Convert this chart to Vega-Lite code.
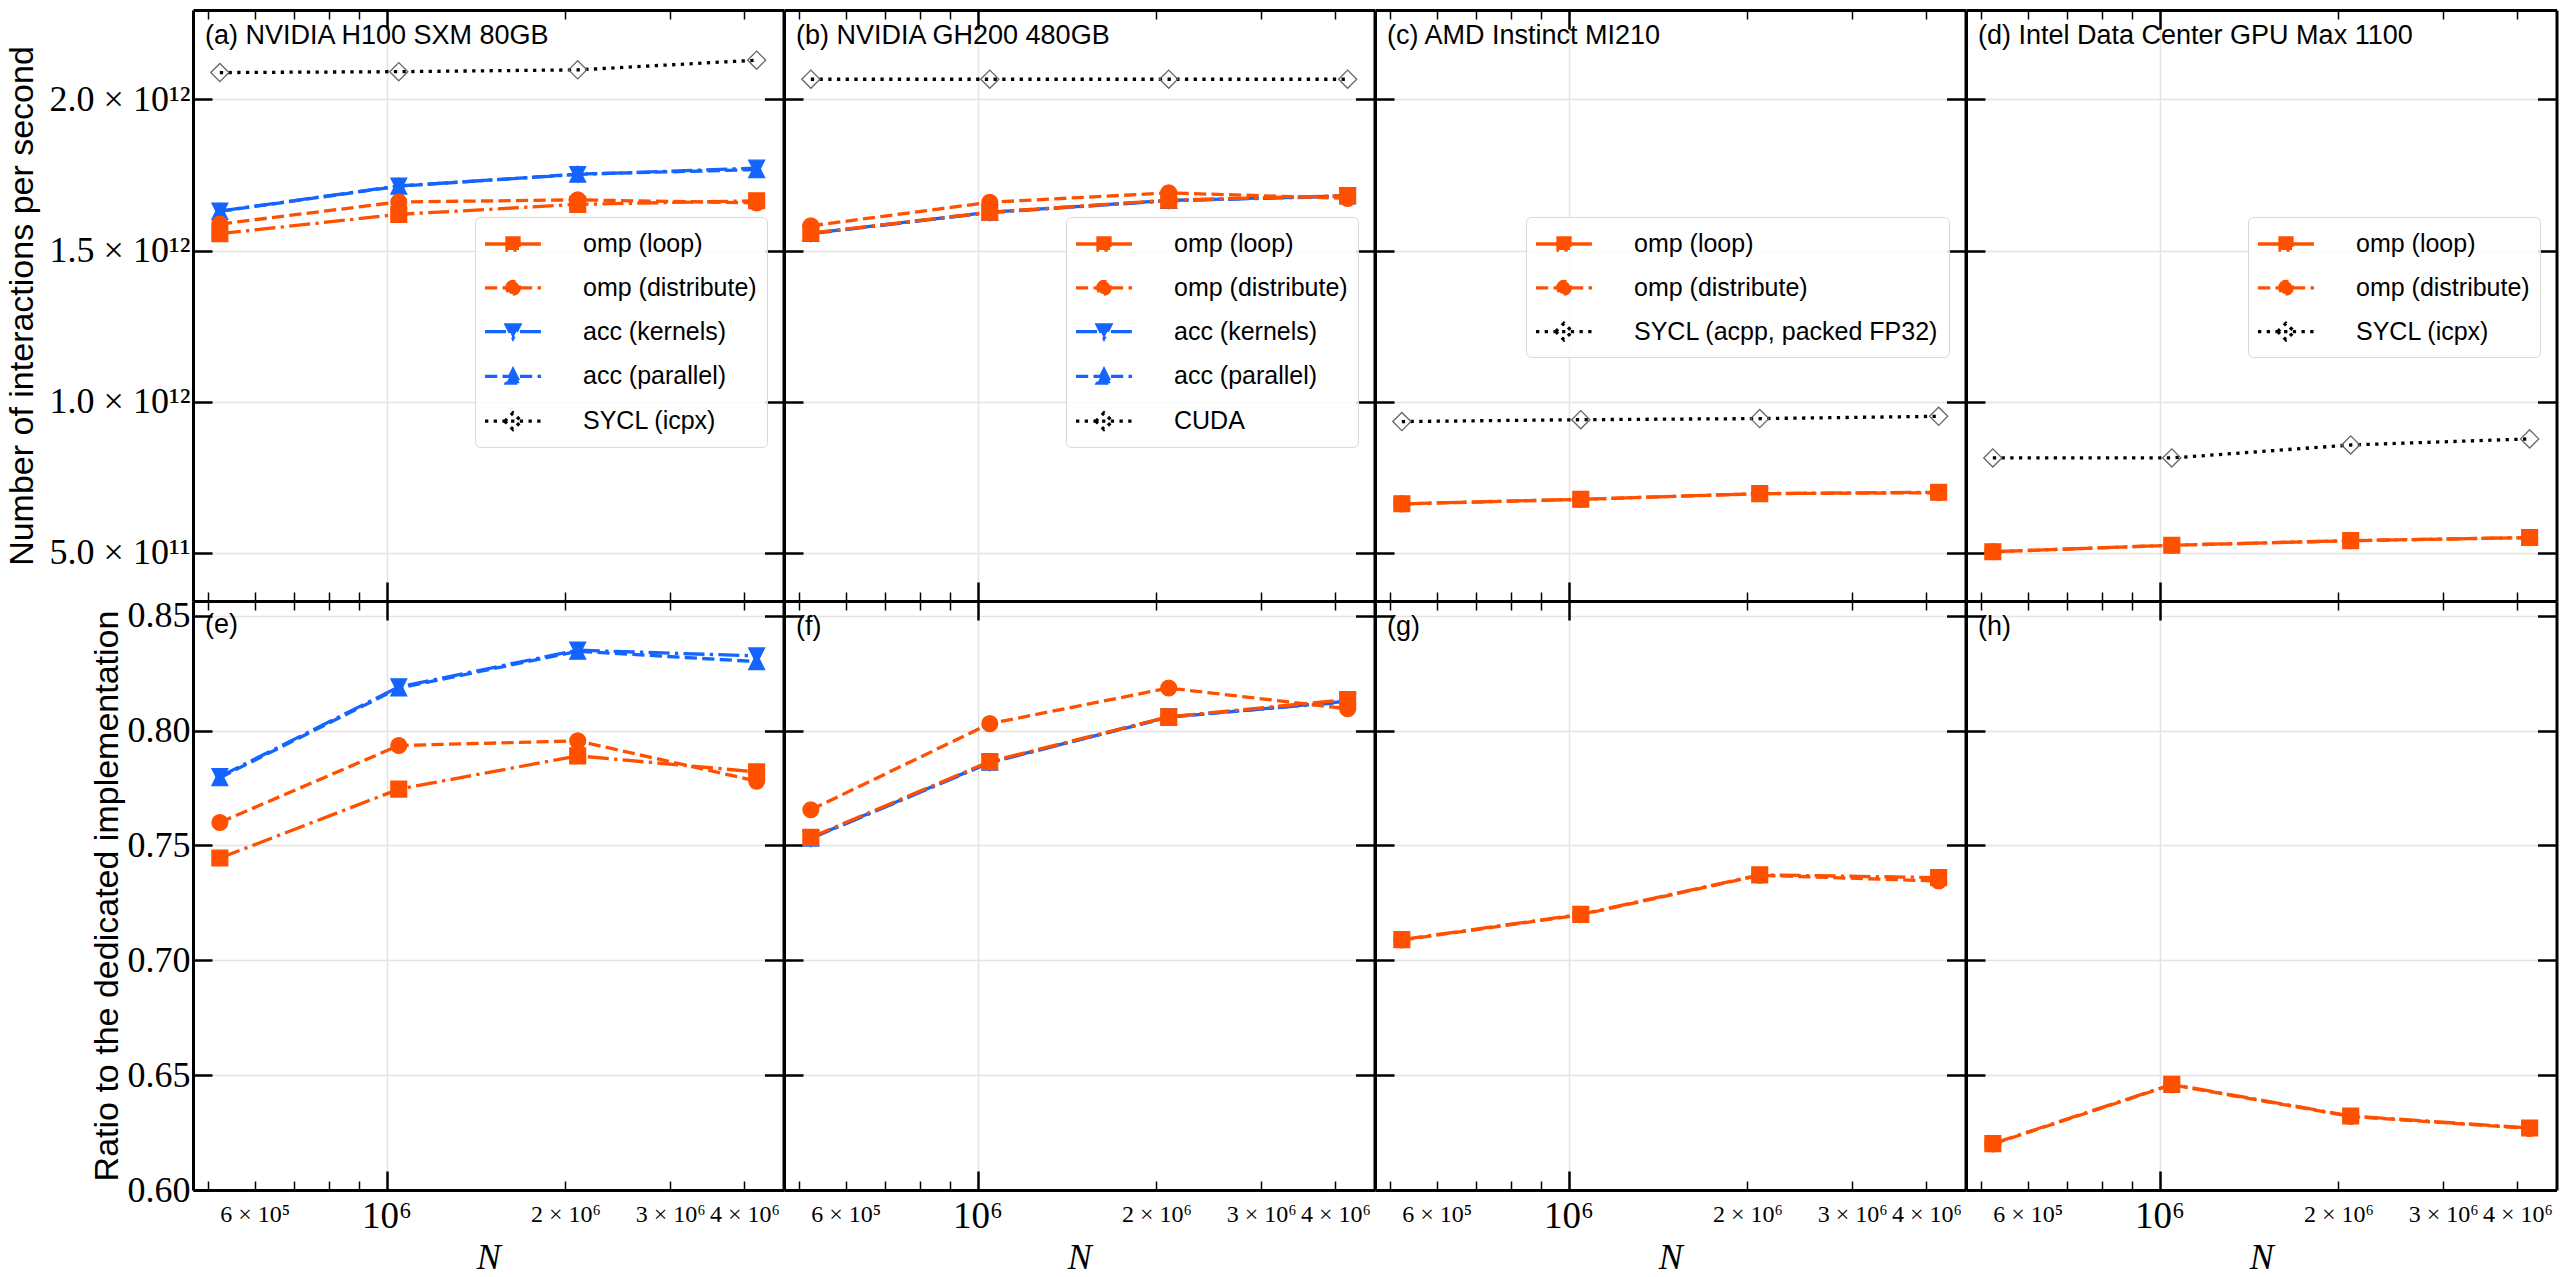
{
  "$schema": "https://vega.github.io/schema/vega-lite/v6.json",
  "background": "white",
  "padding": {"left": 5, "top": 8, "right": 2, "bottom": 2},
  "bounds": "flush",
  "spacing": 0,
  "columns": 4,
  "datasets": {
    "perf": [
      {"gpu": "H100", "series": "acc (kernels)", "N": 524288, "value": 1.631e12},
      {"gpu": "H100", "series": "acc (kernels)", "N": 1048576, "value": 1.714e12},
      {"gpu": "H100", "series": "acc (kernels)", "N": 2097152, "value": 1.752e12},
      {"gpu": "H100", "series": "acc (kernels)", "N": 4194304, "value": 1.773e12},
      {"gpu": "H100", "series": "acc (parallel)", "N": 524288, "value": 1.630e12},
      {"gpu": "H100", "series": "acc (parallel)", "N": 1048576, "value": 1.713e12},
      {"gpu": "H100", "series": "acc (parallel)", "N": 2097152, "value": 1.753e12},
      {"gpu": "H100", "series": "acc (parallel)", "N": 4194304, "value": 1.768e12},
      {"gpu": "H100", "series": "omp (distribute)", "N": 524288, "value": 1.588e12},
      {"gpu": "H100", "series": "omp (distribute)", "N": 1048576, "value": 1.661e12},
      {"gpu": "H100", "series": "omp (distribute)", "N": 2097152, "value": 1.668e12},
      {"gpu": "H100", "series": "omp (distribute)", "N": 4194304, "value": 1.658e12},
      {"gpu": "H100", "series": "omp (loop)", "N": 524288, "value": 1.556e12},
      {"gpu": "H100", "series": "omp (loop)", "N": 1048576, "value": 1.620e12},
      {"gpu": "H100", "series": "omp (loop)", "N": 2097152, "value": 1.653e12},
      {"gpu": "H100", "series": "omp (loop)", "N": 4194304, "value": 1.665e12},
      {"gpu": "H100", "series": "SYCL (icpx)", "N": 524288, "value": 2.089e12},
      {"gpu": "H100", "series": "SYCL (icpx)", "N": 1048576, "value": 2.092e12},
      {"gpu": "H100", "series": "SYCL (icpx)", "N": 2097152, "value": 2.098e12},
      {"gpu": "H100", "series": "SYCL (icpx)", "N": 4194304, "value": 2.130e12},
      {"gpu": "GH200", "series": "acc (kernels)", "N": 524288, "value": 1.556e12},
      {"gpu": "GH200", "series": "acc (kernels)", "N": 1048576, "value": 1.626e12},
      {"gpu": "GH200", "series": "acc (kernels)", "N": 2097152, "value": 1.665e12},
      {"gpu": "GH200", "series": "acc (kernels)", "N": 4194304, "value": 1.680e12},
      {"gpu": "GH200", "series": "acc (parallel)", "N": 524288, "value": 1.557e12},
      {"gpu": "GH200", "series": "acc (parallel)", "N": 1048576, "value": 1.627e12},
      {"gpu": "GH200", "series": "acc (parallel)", "N": 2097152, "value": 1.666e12},
      {"gpu": "GH200", "series": "acc (parallel)", "N": 4194304, "value": 1.681e12},
      {"gpu": "GH200", "series": "omp (distribute)", "N": 524288, "value": 1.582e12},
      {"gpu": "GH200", "series": "omp (distribute)", "N": 1048576, "value": 1.660e12},
      {"gpu": "GH200", "series": "omp (distribute)", "N": 2097152, "value": 1.691e12},
      {"gpu": "GH200", "series": "omp (distribute)", "N": 4194304, "value": 1.673e12},
      {"gpu": "GH200", "series": "omp (loop)", "N": 524288, "value": 1.558e12},
      {"gpu": "GH200", "series": "omp (loop)", "N": 1048576, "value": 1.627e12},
      {"gpu": "GH200", "series": "omp (loop)", "N": 2097152, "value": 1.667e12},
      {"gpu": "GH200", "series": "omp (loop)", "N": 4194304, "value": 1.682e12},
      {"gpu": "GH200", "series": "CUDA", "N": 524288, "value": 2.067e12},
      {"gpu": "GH200", "series": "CUDA", "N": 1048576, "value": 2.067e12},
      {"gpu": "GH200", "series": "CUDA", "N": 2097152, "value": 2.067e12},
      {"gpu": "GH200", "series": "CUDA", "N": 4194304, "value": 2.067e12},
      {"gpu": "MI210", "series": "omp (distribute)", "N": 524288, "value": 0.6622e12},
      {"gpu": "MI210", "series": "omp (distribute)", "N": 1048576, "value": 0.6772e12},
      {"gpu": "MI210", "series": "omp (distribute)", "N": 2097152, "value": 0.6960e12},
      {"gpu": "MI210", "series": "omp (distribute)", "N": 4194304, "value": 0.6993e12},
      {"gpu": "MI210", "series": "omp (loop)", "N": 524288, "value": 0.6625e12},
      {"gpu": "MI210", "series": "omp (loop)", "N": 1048576, "value": 0.6775e12},
      {"gpu": "MI210", "series": "omp (loop)", "N": 2097152, "value": 0.6962e12},
      {"gpu": "MI210", "series": "omp (loop)", "N": 4194304, "value": 0.7007e12},
      {"gpu": "MI210", "series": "SYCL (acpp, packed FP32)", "N": 524288, "value": 0.9345e12},
      {"gpu": "MI210", "series": "SYCL (acpp, packed FP32)", "N": 1048576, "value": 0.9408e12},
      {"gpu": "MI210", "series": "SYCL (acpp, packed FP32)", "N": 2097152, "value": 0.9444e12},
      {"gpu": "MI210", "series": "SYCL (acpp, packed FP32)", "N": 4194304, "value": 0.9520e12},
      {"gpu": "Max1100", "series": "omp (distribute)", "N": 524288, "value": 0.5038e12},
      {"gpu": "Max1100", "series": "omp (distribute)", "N": 1048576, "value": 0.5253e12},
      {"gpu": "Max1100", "series": "omp (distribute)", "N": 2097152, "value": 0.5405e12},
      {"gpu": "Max1100", "series": "omp (distribute)", "N": 4194304, "value": 0.5507e12},
      {"gpu": "Max1100", "series": "omp (loop)", "N": 524288, "value": 0.5040e12},
      {"gpu": "Max1100", "series": "omp (loop)", "N": 1048576, "value": 0.5255e12},
      {"gpu": "Max1100", "series": "omp (loop)", "N": 2097152, "value": 0.5407e12},
      {"gpu": "Max1100", "series": "omp (loop)", "N": 4194304, "value": 0.5509e12},
      {"gpu": "Max1100", "series": "SYCL (icpx)", "N": 524288, "value": 0.8142e12},
      {"gpu": "Max1100", "series": "SYCL (icpx)", "N": 1048576, "value": 0.8142e12},
      {"gpu": "Max1100", "series": "SYCL (icpx)", "N": 2097152, "value": 0.8571e12},
      {"gpu": "Max1100", "series": "SYCL (icpx)", "N": 4194304, "value": 0.8773e12}
    ],
    "ratio": [
      {"gpu": "H100", "series": "acc (kernels)", "N": 524288, "ratio": 0.780},
      {"gpu": "H100", "series": "acc (kernels)", "N": 1048576, "ratio": 0.819},
      {"gpu": "H100", "series": "acc (kernels)", "N": 2097152, "ratio": 0.835},
      {"gpu": "H100", "series": "acc (kernels)", "N": 4194304, "ratio": 0.8325},
      {"gpu": "H100", "series": "acc (parallel)", "N": 524288, "ratio": 0.7795},
      {"gpu": "H100", "series": "acc (parallel)", "N": 1048576, "ratio": 0.8185},
      {"gpu": "H100", "series": "acc (parallel)", "N": 2097152, "ratio": 0.8345},
      {"gpu": "H100", "series": "acc (parallel)", "N": 4194304, "ratio": 0.830},
      {"gpu": "H100", "series": "omp (distribute)", "N": 524288, "ratio": 0.760},
      {"gpu": "H100", "series": "omp (distribute)", "N": 1048576, "ratio": 0.7935},
      {"gpu": "H100", "series": "omp (distribute)", "N": 2097152, "ratio": 0.7955},
      {"gpu": "H100", "series": "omp (distribute)", "N": 4194304, "ratio": 0.778},
      {"gpu": "H100", "series": "omp (loop)", "N": 524288, "ratio": 0.7445},
      {"gpu": "H100", "series": "omp (loop)", "N": 1048576, "ratio": 0.7745},
      {"gpu": "H100", "series": "omp (loop)", "N": 2097152, "ratio": 0.789},
      {"gpu": "H100", "series": "omp (loop)", "N": 4194304, "ratio": 0.782},
      {"gpu": "GH200", "series": "acc (kernels)", "N": 524288, "ratio": 0.753},
      {"gpu": "GH200", "series": "acc (kernels)", "N": 1048576, "ratio": 0.786},
      {"gpu": "GH200", "series": "acc (kernels)", "N": 2097152, "ratio": 0.806},
      {"gpu": "GH200", "series": "acc (kernels)", "N": 4194304, "ratio": 0.8125},
      {"gpu": "GH200", "series": "acc (parallel)", "N": 524288, "ratio": 0.7532},
      {"gpu": "GH200", "series": "acc (parallel)", "N": 1048576, "ratio": 0.7862},
      {"gpu": "GH200", "series": "acc (parallel)", "N": 2097152, "ratio": 0.8058},
      {"gpu": "GH200", "series": "acc (parallel)", "N": 4194304, "ratio": 0.8128},
      {"gpu": "GH200", "series": "omp (distribute)", "N": 524288, "ratio": 0.7655},
      {"gpu": "GH200", "series": "omp (distribute)", "N": 1048576, "ratio": 0.803},
      {"gpu": "GH200", "series": "omp (distribute)", "N": 2097152, "ratio": 0.8185},
      {"gpu": "GH200", "series": "omp (distribute)", "N": 4194304, "ratio": 0.8095},
      {"gpu": "GH200", "series": "omp (loop)", "N": 524288, "ratio": 0.7535},
      {"gpu": "GH200", "series": "omp (loop)", "N": 1048576, "ratio": 0.7865},
      {"gpu": "GH200", "series": "omp (loop)", "N": 2097152, "ratio": 0.806},
      {"gpu": "GH200", "series": "omp (loop)", "N": 4194304, "ratio": 0.8135},
      {"gpu": "MI210", "series": "omp (distribute)", "N": 524288, "ratio": 0.7088},
      {"gpu": "MI210", "series": "omp (distribute)", "N": 1048576, "ratio": 0.7198},
      {"gpu": "MI210", "series": "omp (distribute)", "N": 2097152, "ratio": 0.737},
      {"gpu": "MI210", "series": "omp (distribute)", "N": 4194304, "ratio": 0.7345},
      {"gpu": "MI210", "series": "omp (loop)", "N": 524288, "ratio": 0.709},
      {"gpu": "MI210", "series": "omp (loop)", "N": 1048576, "ratio": 0.720},
      {"gpu": "MI210", "series": "omp (loop)", "N": 2097152, "ratio": 0.7372},
      {"gpu": "MI210", "series": "omp (loop)", "N": 4194304, "ratio": 0.736},
      {"gpu": "Max1100", "series": "omp (distribute)", "N": 524288, "ratio": 0.6200},
      {"gpu": "Max1100", "series": "omp (distribute)", "N": 1048576, "ratio": 0.6458},
      {"gpu": "Max1100", "series": "omp (distribute)", "N": 2097152, "ratio": 0.632},
      {"gpu": "Max1100", "series": "omp (distribute)", "N": 4194304, "ratio": 0.6268},
      {"gpu": "Max1100", "series": "omp (loop)", "N": 524288, "ratio": 0.6202},
      {"gpu": "Max1100", "series": "omp (loop)", "N": 1048576, "ratio": 0.646},
      {"gpu": "Max1100", "series": "omp (loop)", "N": 2097152, "ratio": 0.6322},
      {"gpu": "Max1100", "series": "omp (loop)", "N": 4194304, "ratio": 0.627}
    ]
  },
  "concat": [
    {
      "width": 590.5, "height": 591,
      "title": {"text": "(a) NVIDIA H100 SXM 80GB", "anchor": "start", "frame": "group", "offset": -41, "dx": 12, "baseline": "top", "font": "Liberation Sans", "fontSize": 27, "fontWeight": "normal", "color": "black"},
      "data": {"name": "perf"},
      "transform": [{"filter": "datum.gpu === 'H100'"}],
      "layer": [
        {
          "mark": {"type": "line", "strokeWidth": 3.3},
          "encoding": {
            "x": {"field": "N", "type": "quantitative", "scale": {"type": "log", "domain": [472500, 4654000], "nice": false},
              "axis": {"orient": "bottom", "values": [500000, 600000, 700000, 800000, 900000, 1000000, 2000000, 3000000, 4000000], "labels": false, "title": null, "tickSize": {"condition": {"test": "datum.value === 1000000", "value": -19}, "value": -9}, "tickWidth": {"condition": {"test": "datum.value === 1000000", "value": 2.5}, "value": 1.5}, "grid": true, "gridOpacity": {"condition": {"test": "datum.value === 1000000", "value": 1}, "value": 0}}},
            "y": {"field": "value", "type": "quantitative", "scale": {"domain": [341000000000, 2296000000000], "nice": false, "zero": false},
              "axis": {"orient": "left", "values": [500000000000, 1000000000000, 1500000000000, 2000000000000], "labelExpr": "datum.value === 2000000000000 ? '2.0 × 10¹²' : datum.value === 1500000000000 ? '1.5 × 10¹²' : datum.value === 1000000000000 ? '1.0 × 10¹²' : '5.0 × 10¹¹'", "labelFontSize": 36, "labelPadding": 22, "tickSize": -19, "tickWidth": 2.5, "grid": true, "title": "Number of interactions per second", "titleFont": "Liberation Sans", "titleFontSize": 34, "titlePadding": 10}},
            "color": {"field": "series", "type": "nominal",
              "scale": {"domain": ["omp (loop)", "omp (distribute)", "acc (kernels)", "acc (parallel)", "SYCL (icpx)"], "range": ["#ff5000", "#ff5000", "#1464ff", "#1464ff", "#000000"]},
              "legend": {"orient": "none", "legendX": 282, "legendY": 207, "title": null,
                "encode": {"symbols": {"update": {
                  "shape": {"signal": "datum.value==='omp (loop)'?'M-1.133,0L2.6,0M0.333,-0.4L1.133,-0.4L1.133,0.4L0.333,0.4Z':datum.value==='omp (distribute)'?'M-1.133,0L2.6,0M0.313,0A0.42,0.42,0,1,1,1.153,0A0.42,0.42,0,1,1,0.313,0Z':datum.value==='acc (kernels)'?'M-1.133,0L2.6,0M0.283,-0.45L1.183,-0.45L0.733,0.45Z':datum.value==='acc (parallel)'?'M-1.133,0L2.6,0M0.733,-0.45L1.183,0.45L0.283,0.45Z':'M-1.133,0L2.6,0M0.183,0L0.733,-0.55L1.283,0L0.733,0.55Z'"},
                  "fill": {"signal": "indexof(datum.value,'omp')===0?'#ff5000':indexof(datum.value,'acc')===0?'#1464ff':'transparent'"},
                  "strokeDash": {"signal": "indexof(datum.value,'loop')>=0||indexof(datum.value,'kernels')>=0?[21,5.3,3.3,5.3]:indexof(datum.value,'distribute')>=0||indexof(datum.value,'parallel')>=0?[12.2,5.3]:[3.3,5.4]"}
                }}}}},
            "strokeDash": {"field": "series", "type": "nominal",
              "scale": {"domain": ["omp (loop)", "omp (distribute)", "acc (kernels)", "acc (parallel)", "SYCL (icpx)"], "range": [[21, 5.3, 3.3, 5.3], [12.2, 5.3], [21, 5.3, 3.3, 5.3], [12.2, 5.3], [3.3, 5.4]]}, "legend": null}
          }
        },
        {
          "mark": {"type": "point", "filled": true, "opacity": 1, "strokeWidth": 1.3, "size": 250},
          "encoding": {
            "x": {"field": "N", "type": "quantitative",
              "axis": {"orient": "top", "values": [500000, 600000, 700000, 800000, 900000, 1000000, 2000000, 3000000, 4000000], "labels": false, "title": null, "grid": false, "tickSize": {"condition": {"test": "datum.value === 1000000", "value": -19}, "value": -9}, "tickWidth": {"condition": {"test": "datum.value === 1000000", "value": 2.5}, "value": 1.5}}},
            "y": {"field": "value", "type": "quantitative",
              "axis": {"orient": "right", "values": [500000000000, 1000000000000, 1500000000000, 2000000000000], "labels": false, "title": null, "grid": false, "tickSize": -19, "tickWidth": 2.5}},
            "shape": {"field": "series", "type": "nominal", "legend": null,
              "scale": {"range": ["M-1.15,0L0,-1.15L1.15,0L0,1.15Z", "M-1,-1L1,-1L0,1Z", "M0,-1L1,1L-1,1Z", "M-1,0A1,1,0,1,1,1,0A1,1,0,1,1,-1,0Z", "M-1,-1L1,-1L1,1L-1,1Z"]}},
            "fill": {"field": "series", "type": "nominal", "legend": null,
              "scale": {"range": ["transparent", "#1464ff", "#1464ff", "#ff5000", "#ff5000"]}},
            "stroke": {"field": "series", "type": "nominal", "legend": null,
              "scale": {"range": ["#666666", "#1464ff", "#1464ff", "#ff5000", "#ff5000"]}}
          }
        }
      ],
      "resolve": {"axis": {"x": "independent", "y": "independent"}}
    },
    {
      "width": 590.5, "height": 591,
      "title": {"text": "(b) NVIDIA GH200 480GB", "anchor": "start", "frame": "group", "offset": -41, "dx": 12, "baseline": "top", "font": "Liberation Sans", "fontSize": 27, "fontWeight": "normal", "color": "black"},
      "data": {"name": "perf"},
      "transform": [{"filter": "datum.gpu === 'GH200'"}],
      "layer": [
        {
          "mark": {"type": "line", "strokeWidth": 3.3},
          "encoding": {
            "x": {"field": "N", "type": "quantitative", "scale": {"type": "log", "domain": [472500, 4654000], "nice": false},
              "axis": {"orient": "bottom", "values": [500000, 600000, 700000, 800000, 900000, 1000000, 2000000, 3000000, 4000000], "labels": false, "title": null, "tickSize": {"condition": {"test": "datum.value === 1000000", "value": -19}, "value": -9}, "tickWidth": {"condition": {"test": "datum.value === 1000000", "value": 2.5}, "value": 1.5}, "grid": true, "gridOpacity": {"condition": {"test": "datum.value === 1000000", "value": 1}, "value": 0}}},
            "y": {"field": "value", "type": "quantitative", "scale": {"domain": [341000000000, 2296000000000], "nice": false, "zero": false},
              "axis": {"orient": "left", "values": [500000000000, 1000000000000, 1500000000000, 2000000000000], "labels": false, "tickSize": -19, "tickWidth": 2.5, "grid": true, "title": null}},
            "color": {"field": "series", "type": "nominal",
              "scale": {"domain": ["omp (loop)", "omp (distribute)", "acc (kernels)", "acc (parallel)", "CUDA"], "range": ["#ff5000", "#ff5000", "#1464ff", "#1464ff", "#000000"]},
              "legend": {"orient": "none", "legendX": 282, "legendY": 207, "title": null,
                "encode": {"symbols": {"update": {
                  "shape": {"signal": "datum.value==='omp (loop)'?'M-1.133,0L2.6,0M0.333,-0.4L1.133,-0.4L1.133,0.4L0.333,0.4Z':datum.value==='omp (distribute)'?'M-1.133,0L2.6,0M0.313,0A0.42,0.42,0,1,1,1.153,0A0.42,0.42,0,1,1,0.313,0Z':datum.value==='acc (kernels)'?'M-1.133,0L2.6,0M0.283,-0.45L1.183,-0.45L0.733,0.45Z':datum.value==='acc (parallel)'?'M-1.133,0L2.6,0M0.733,-0.45L1.183,0.45L0.283,0.45Z':'M-1.133,0L2.6,0M0.183,0L0.733,-0.55L1.283,0L0.733,0.55Z'"},
                  "fill": {"signal": "indexof(datum.value,'omp')===0?'#ff5000':indexof(datum.value,'acc')===0?'#1464ff':'transparent'"},
                  "strokeDash": {"signal": "indexof(datum.value,'loop')>=0||indexof(datum.value,'kernels')>=0?[21,5.3,3.3,5.3]:indexof(datum.value,'distribute')>=0||indexof(datum.value,'parallel')>=0?[12.2,5.3]:[3.3,5.4]"}
                }}}}},
            "strokeDash": {"field": "series", "type": "nominal",
              "scale": {"domain": ["omp (loop)", "omp (distribute)", "acc (kernels)", "acc (parallel)", "CUDA"], "range": [[21, 5.3, 3.3, 5.3], [12.2, 5.3], [21, 5.3, 3.3, 5.3], [12.2, 5.3], [3.3, 5.4]]}, "legend": null}
          }
        },
        {
          "mark": {"type": "point", "filled": true, "opacity": 1, "strokeWidth": 1.3, "size": 250},
          "encoding": {
            "x": {"field": "N", "type": "quantitative",
              "axis": {"orient": "top", "values": [500000, 600000, 700000, 800000, 900000, 1000000, 2000000, 3000000, 4000000], "labels": false, "title": null, "grid": false, "tickSize": {"condition": {"test": "datum.value === 1000000", "value": -19}, "value": -9}, "tickWidth": {"condition": {"test": "datum.value === 1000000", "value": 2.5}, "value": 1.5}}},
            "y": {"field": "value", "type": "quantitative",
              "axis": {"orient": "right", "values": [500000000000, 1000000000000, 1500000000000, 2000000000000], "labels": false, "title": null, "grid": false, "tickSize": -19, "tickWidth": 2.5}},
            "shape": {"field": "series", "type": "nominal", "legend": null,
              "scale": {"range": ["M-1.15,0L0,-1.15L1.15,0L0,1.15Z", "M-1,-1L1,-1L0,1Z", "M0,-1L1,1L-1,1Z", "M-1,0A1,1,0,1,1,1,0A1,1,0,1,1,-1,0Z", "M-1,-1L1,-1L1,1L-1,1Z"]}},
            "fill": {"field": "series", "type": "nominal", "legend": null,
              "scale": {"range": ["transparent", "#1464ff", "#1464ff", "#ff5000", "#ff5000"]}},
            "stroke": {"field": "series", "type": "nominal", "legend": null,
              "scale": {"range": ["#666666", "#1464ff", "#1464ff", "#ff5000", "#ff5000"]}}
          }
        }
      ],
      "resolve": {"axis": {"x": "independent", "y": "independent"}}
    },
    {
      "width": 590.5, "height": 591,
      "title": {"text": "(c) AMD Instinct MI210", "anchor": "start", "frame": "group", "offset": -41, "dx": 12, "baseline": "top", "font": "Liberation Sans", "fontSize": 27, "fontWeight": "normal", "color": "black"},
      "data": {"name": "perf"},
      "transform": [{"filter": "datum.gpu === 'MI210'"}],
      "layer": [
        {
          "mark": {"type": "line", "strokeWidth": 3.3},
          "encoding": {
            "x": {"field": "N", "type": "quantitative", "scale": {"type": "log", "domain": [472500, 4654000], "nice": false},
              "axis": {"orient": "bottom", "values": [500000, 600000, 700000, 800000, 900000, 1000000, 2000000, 3000000, 4000000], "labels": false, "title": null, "tickSize": {"condition": {"test": "datum.value === 1000000", "value": -19}, "value": -9}, "tickWidth": {"condition": {"test": "datum.value === 1000000", "value": 2.5}, "value": 1.5}, "grid": true, "gridOpacity": {"condition": {"test": "datum.value === 1000000", "value": 1}, "value": 0}}},
            "y": {"field": "value", "type": "quantitative", "scale": {"domain": [341000000000, 2296000000000], "nice": false, "zero": false},
              "axis": {"orient": "left", "values": [500000000000, 1000000000000, 1500000000000, 2000000000000], "labels": false, "tickSize": -19, "tickWidth": 2.5, "grid": true, "title": null}},
            "color": {"field": "series", "type": "nominal",
              "scale": {"domain": ["omp (loop)", "omp (distribute)", "SYCL (acpp, packed FP32)"], "range": ["#ff5000", "#ff5000", "#000000"]},
              "legend": {"orient": "none", "legendX": 151, "legendY": 207, "title": null,
                "encode": {"symbols": {"update": {
                  "shape": {"signal": "datum.value==='omp (loop)'?'M-1.133,0L2.6,0M0.333,-0.4L1.133,-0.4L1.133,0.4L0.333,0.4Z':datum.value==='omp (distribute)'?'M-1.133,0L2.6,0M0.313,0A0.42,0.42,0,1,1,1.153,0A0.42,0.42,0,1,1,0.313,0Z':'M-1.133,0L2.6,0M0.183,0L0.733,-0.55L1.283,0L0.733,0.55Z'"},
                  "fill": {"signal": "indexof(datum.value,'omp')===0?'#ff5000':'transparent'"},
                  "strokeDash": {"signal": "indexof(datum.value,'loop')>=0?[21,5.3,3.3,5.3]:indexof(datum.value,'distribute')>=0?[12.2,5.3]:[3.3,5.4]"}
                }}}}},
            "strokeDash": {"field": "series", "type": "nominal",
              "scale": {"domain": ["omp (loop)", "omp (distribute)", "SYCL (acpp, packed FP32)"], "range": [[21, 5.3, 3.3, 5.3], [12.2, 5.3], [3.3, 5.4]]}, "legend": null}
          }
        },
        {
          "mark": {"type": "point", "filled": true, "opacity": 1, "strokeWidth": 1.3, "size": 250},
          "encoding": {
            "x": {"field": "N", "type": "quantitative",
              "axis": {"orient": "top", "values": [500000, 600000, 700000, 800000, 900000, 1000000, 2000000, 3000000, 4000000], "labels": false, "title": null, "grid": false, "tickSize": {"condition": {"test": "datum.value === 1000000", "value": -19}, "value": -9}, "tickWidth": {"condition": {"test": "datum.value === 1000000", "value": 2.5}, "value": 1.5}}},
            "y": {"field": "value", "type": "quantitative",
              "axis": {"orient": "right", "values": [500000000000, 1000000000000, 1500000000000, 2000000000000], "labels": false, "title": null, "grid": false, "tickSize": -19, "tickWidth": 2.5}},
            "shape": {"field": "series", "type": "nominal", "legend": null,
              "scale": {"range": ["M-1.15,0L0,-1.15L1.15,0L0,1.15Z", "M-1,0A1,1,0,1,1,1,0A1,1,0,1,1,-1,0Z", "M-1,-1L1,-1L1,1L-1,1Z"]}},
            "fill": {"field": "series", "type": "nominal", "legend": null,
              "scale": {"range": ["transparent", "#ff5000", "#ff5000"]}},
            "stroke": {"field": "series", "type": "nominal", "legend": null,
              "scale": {"range": ["#666666", "#ff5000", "#ff5000"]}}
          }
        }
      ],
      "resolve": {"axis": {"x": "independent", "y": "independent"}}
    },
    {
      "width": 590.5, "height": 591,
      "title": {"text": "(d) Intel Data Center GPU Max 1100", "anchor": "start", "frame": "group", "offset": -41, "dx": 12, "baseline": "top", "font": "Liberation Sans", "fontSize": 27, "fontWeight": "normal", "color": "black"},
      "data": {"name": "perf"},
      "transform": [{"filter": "datum.gpu === 'Max1100'"}],
      "layer": [
        {
          "mark": {"type": "line", "strokeWidth": 3.3},
          "encoding": {
            "x": {"field": "N", "type": "quantitative", "scale": {"type": "log", "domain": [472500, 4654000], "nice": false},
              "axis": {"orient": "bottom", "values": [500000, 600000, 700000, 800000, 900000, 1000000, 2000000, 3000000, 4000000], "labels": false, "title": null, "tickSize": {"condition": {"test": "datum.value === 1000000", "value": -19}, "value": -9}, "tickWidth": {"condition": {"test": "datum.value === 1000000", "value": 2.5}, "value": 1.5}, "grid": true, "gridOpacity": {"condition": {"test": "datum.value === 1000000", "value": 1}, "value": 0}}},
            "y": {"field": "value", "type": "quantitative", "scale": {"domain": [341000000000, 2296000000000], "nice": false, "zero": false},
              "axis": {"orient": "left", "values": [500000000000, 1000000000000, 1500000000000, 2000000000000], "labels": false, "tickSize": -19, "tickWidth": 2.5, "grid": true, "title": null}},
            "color": {"field": "series", "type": "nominal",
              "scale": {"domain": ["omp (loop)", "omp (distribute)", "SYCL (icpx)"], "range": ["#ff5000", "#ff5000", "#000000"]},
              "legend": {"orient": "none", "legendX": 282, "legendY": 207, "title": null,
                "encode": {"symbols": {"update": {
                  "shape": {"signal": "datum.value==='omp (loop)'?'M-1.133,0L2.6,0M0.333,-0.4L1.133,-0.4L1.133,0.4L0.333,0.4Z':datum.value==='omp (distribute)'?'M-1.133,0L2.6,0M0.313,0A0.42,0.42,0,1,1,1.153,0A0.42,0.42,0,1,1,0.313,0Z':'M-1.133,0L2.6,0M0.183,0L0.733,-0.55L1.283,0L0.733,0.55Z'"},
                  "fill": {"signal": "indexof(datum.value,'omp')===0?'#ff5000':'transparent'"},
                  "strokeDash": {"signal": "indexof(datum.value,'loop')>=0?[21,5.3,3.3,5.3]:indexof(datum.value,'distribute')>=0?[12.2,5.3]:[3.3,5.4]"}
                }}}}},
            "strokeDash": {"field": "series", "type": "nominal",
              "scale": {"domain": ["omp (loop)", "omp (distribute)", "SYCL (icpx)"], "range": [[21, 5.3, 3.3, 5.3], [12.2, 5.3], [3.3, 5.4]]}, "legend": null}
          }
        },
        {
          "mark": {"type": "point", "filled": true, "opacity": 1, "strokeWidth": 1.3, "size": 250},
          "encoding": {
            "x": {"field": "N", "type": "quantitative",
              "axis": {"orient": "top", "values": [500000, 600000, 700000, 800000, 900000, 1000000, 2000000, 3000000, 4000000], "labels": false, "title": null, "grid": false, "tickSize": {"condition": {"test": "datum.value === 1000000", "value": -19}, "value": -9}, "tickWidth": {"condition": {"test": "datum.value === 1000000", "value": 2.5}, "value": 1.5}}},
            "y": {"field": "value", "type": "quantitative",
              "axis": {"orient": "right", "values": [500000000000, 1000000000000, 1500000000000, 2000000000000], "labels": false, "title": null, "grid": false, "tickSize": -19, "tickWidth": 2.5}},
            "shape": {"field": "series", "type": "nominal", "legend": null,
              "scale": {"range": ["M-1.15,0L0,-1.15L1.15,0L0,1.15Z", "M-1,0A1,1,0,1,1,1,0A1,1,0,1,1,-1,0Z", "M-1,-1L1,-1L1,1L-1,1Z"]}},
            "fill": {"field": "series", "type": "nominal", "legend": null,
              "scale": {"range": ["transparent", "#ff5000", "#ff5000"]}},
            "stroke": {"field": "series", "type": "nominal", "legend": null,
              "scale": {"range": ["#666666", "#ff5000", "#ff5000"]}}
          }
        }
      ],
      "resolve": {"axis": {"x": "independent", "y": "independent"}}
    },
    {
      "width": 590.5, "height": 589,
      "title": {"text": "(e)", "anchor": "start", "frame": "group", "offset": -41, "dx": 12, "baseline": "top", "font": "Liberation Sans", "fontSize": 27, "fontWeight": "normal", "color": "black"},
      "data": {"name": "ratio"},
      "transform": [{"filter": "datum.gpu === 'H100'"}],
      "layer": [
        {
          "mark": {"type": "line", "strokeWidth": 3.3},
          "encoding": {
            "x": {"field": "N", "type": "quantitative", "scale": {"type": "log", "domain": [472500, 4654000], "nice": false},
              "axis": {"orient": "bottom", "values": [500000, 600000, 700000, 800000, 900000, 1000000, 2000000, 3000000, 4000000], "tickSize": {"condition": {"test": "datum.value === 1000000", "value": -19}, "value": -9}, "tickWidth": {"condition": {"test": "datum.value === 1000000", "value": 2.5}, "value": 1.5}, "grid": true, "gridOpacity": {"condition": {"test": "datum.value === 1000000", "value": 1}, "value": 0},
                "labelExpr": "datum.value === 1000000 ? '10⁶' : datum.value === 600000 ? '6 × 10⁵' : datum.value === 2000000 ? '2 × 10⁶' : datum.value === 3000000 ? '3 × 10⁶' : datum.value === 4000000 ? '4 × 10⁶' : ''",
                "labelFontSize": {"condition": {"test": "datum.value === 1000000", "value": 37}, "value": 24}, "labelPadding": {"condition": {"test": "datum.value === 1000000", "value": 27}, "value": 21}, "labelOverlap": false, "labelFlush": false, "labelBaseline": "top", "labelAlign": "center",
                "title": "N", "titleFont": "Liberation Serif", "titleFontStyle": "italic", "titleFontSize": 36, "titlePadding": 6}},
            "y": {"field": "ratio", "type": "quantitative", "scale": {"domain": [0.6, 0.8564], "nice": false, "zero": false},
              "axis": {"orient": "left", "values": [0.6, 0.65, 0.7, 0.75, 0.8, 0.85], "format": ".2f", "labelFontSize": 36, "labelPadding": 22, "tickSize": -19, "tickWidth": 2.5, "grid": true, "title": "Ratio to the dedicated implementation", "titleFont": "Liberation Sans", "titleFontSize": 34, "titlePadding": 3}},
            "color": {"field": "series", "type": "nominal", "legend": null,
              "scale": {"domain": ["omp (loop)", "omp (distribute)", "acc (kernels)", "acc (parallel)"], "range": ["#ff5000", "#ff5000", "#1464ff", "#1464ff"]}},
            "strokeDash": {"field": "series", "type": "nominal", "legend": null,
              "scale": {"domain": ["omp (loop)", "omp (distribute)", "acc (kernels)", "acc (parallel)"], "range": [[21, 5.3, 3.3, 5.3], [12.2, 5.3], [21, 5.3, 3.3, 5.3], [12.2, 5.3]]}}
          }
        },
        {
          "mark": {"type": "point", "filled": true, "opacity": 1, "strokeWidth": 1.3, "size": 250},
          "encoding": {
            "x": {"field": "N", "type": "quantitative",
              "axis": {"orient": "top", "values": [500000, 600000, 700000, 800000, 900000, 1000000, 2000000, 3000000, 4000000], "labels": false, "title": null, "grid": false, "tickSize": {"condition": {"test": "datum.value === 1000000", "value": -19}, "value": -9}, "tickWidth": {"condition": {"test": "datum.value === 1000000", "value": 2.5}, "value": 1.5}}},
            "y": {"field": "ratio", "type": "quantitative",
              "axis": {"orient": "right", "values": [0.6, 0.65, 0.7, 0.75, 0.8, 0.85], "labels": false, "title": null, "grid": false, "tickSize": -19, "tickWidth": 2.5}},
            "shape": {"field": "series", "type": "nominal", "legend": null,
              "scale": {"domain": ["omp (loop)", "omp (distribute)", "acc (kernels)", "acc (parallel)"], "range": ["M-1,-1L1,-1L1,1L-1,1Z", "M-1,0A1,1,0,1,1,1,0A1,1,0,1,1,-1,0Z", "M-1,-1L1,-1L0,1Z", "M0,-1L1,1L-1,1Z"]}},
            "fill": {"field": "series", "type": "nominal", "legend": null,
              "scale": {"domain": ["omp (loop)", "omp (distribute)", "acc (kernels)", "acc (parallel)"], "range": ["#ff5000", "#ff5000", "#1464ff", "#1464ff"]}},
            "stroke": {"field": "series", "type": "nominal", "legend": null,
              "scale": {"domain": ["omp (loop)", "omp (distribute)", "acc (kernels)", "acc (parallel)"], "range": ["#ff5000", "#ff5000", "#1464ff", "#1464ff"]}}
          }
        }
      ],
      "resolve": {"axis": {"x": "independent", "y": "independent"}}
    },
    {
      "width": 590.5, "height": 589,
      "title": {"text": "(f)", "anchor": "start", "frame": "group", "offset": -41, "dx": 12, "baseline": "top", "font": "Liberation Sans", "fontSize": 27, "fontWeight": "normal", "color": "black"},
      "data": {"name": "ratio"},
      "transform": [{"filter": "datum.gpu === 'GH200'"}],
      "layer": [
        {
          "mark": {"type": "line", "strokeWidth": 3.3},
          "encoding": {
            "x": {"field": "N", "type": "quantitative", "scale": {"type": "log", "domain": [472500, 4654000], "nice": false},
              "axis": {"orient": "bottom", "values": [500000, 600000, 700000, 800000, 900000, 1000000, 2000000, 3000000, 4000000], "tickSize": {"condition": {"test": "datum.value === 1000000", "value": -19}, "value": -9}, "tickWidth": {"condition": {"test": "datum.value === 1000000", "value": 2.5}, "value": 1.5}, "grid": true, "gridOpacity": {"condition": {"test": "datum.value === 1000000", "value": 1}, "value": 0},
                "labelExpr": "datum.value === 1000000 ? '10⁶' : datum.value === 600000 ? '6 × 10⁵' : datum.value === 2000000 ? '2 × 10⁶' : datum.value === 3000000 ? '3 × 10⁶' : datum.value === 4000000 ? '4 × 10⁶' : ''",
                "labelFontSize": {"condition": {"test": "datum.value === 1000000", "value": 37}, "value": 24}, "labelPadding": {"condition": {"test": "datum.value === 1000000", "value": 27}, "value": 21}, "labelOverlap": false, "labelFlush": false, "labelBaseline": "top", "labelAlign": "center",
                "title": "N", "titleFont": "Liberation Serif", "titleFontStyle": "italic", "titleFontSize": 36, "titlePadding": 6}},
            "y": {"field": "ratio", "type": "quantitative", "scale": {"domain": [0.6, 0.8564], "nice": false, "zero": false},
              "axis": {"orient": "left", "values": [0.6, 0.65, 0.7, 0.75, 0.8, 0.85], "labels": false, "tickSize": -19, "tickWidth": 2.5, "grid": true, "title": null}},
            "color": {"field": "series", "type": "nominal", "legend": null,
              "scale": {"domain": ["omp (loop)", "omp (distribute)", "acc (kernels)", "acc (parallel)"], "range": ["#ff5000", "#ff5000", "#1464ff", "#1464ff"]}},
            "strokeDash": {"field": "series", "type": "nominal", "legend": null,
              "scale": {"domain": ["omp (loop)", "omp (distribute)", "acc (kernels)", "acc (parallel)"], "range": [[21, 5.3, 3.3, 5.3], [12.2, 5.3], [21, 5.3, 3.3, 5.3], [12.2, 5.3]]}}
          }
        },
        {
          "mark": {"type": "point", "filled": true, "opacity": 1, "strokeWidth": 1.3, "size": 250},
          "encoding": {
            "x": {"field": "N", "type": "quantitative",
              "axis": {"orient": "top", "values": [500000, 600000, 700000, 800000, 900000, 1000000, 2000000, 3000000, 4000000], "labels": false, "title": null, "grid": false, "tickSize": {"condition": {"test": "datum.value === 1000000", "value": -19}, "value": -9}, "tickWidth": {"condition": {"test": "datum.value === 1000000", "value": 2.5}, "value": 1.5}}},
            "y": {"field": "ratio", "type": "quantitative",
              "axis": {"orient": "right", "values": [0.6, 0.65, 0.7, 0.75, 0.8, 0.85], "labels": false, "title": null, "grid": false, "tickSize": -19, "tickWidth": 2.5}},
            "shape": {"field": "series", "type": "nominal", "legend": null,
              "scale": {"domain": ["omp (loop)", "omp (distribute)", "acc (kernels)", "acc (parallel)"], "range": ["M-1,-1L1,-1L1,1L-1,1Z", "M-1,0A1,1,0,1,1,1,0A1,1,0,1,1,-1,0Z", "M-1,-1L1,-1L0,1Z", "M0,-1L1,1L-1,1Z"]}},
            "fill": {"field": "series", "type": "nominal", "legend": null,
              "scale": {"domain": ["omp (loop)", "omp (distribute)", "acc (kernels)", "acc (parallel)"], "range": ["#ff5000", "#ff5000", "#1464ff", "#1464ff"]}},
            "stroke": {"field": "series", "type": "nominal", "legend": null,
              "scale": {"domain": ["omp (loop)", "omp (distribute)", "acc (kernels)", "acc (parallel)"], "range": ["#ff5000", "#ff5000", "#1464ff", "#1464ff"]}}
          }
        }
      ],
      "resolve": {"axis": {"x": "independent", "y": "independent"}}
    },
    {
      "width": 590.5, "height": 589,
      "title": {"text": "(g)", "anchor": "start", "frame": "group", "offset": -41, "dx": 12, "baseline": "top", "font": "Liberation Sans", "fontSize": 27, "fontWeight": "normal", "color": "black"},
      "data": {"name": "ratio"},
      "transform": [{"filter": "datum.gpu === 'MI210'"}],
      "layer": [
        {
          "mark": {"type": "line", "strokeWidth": 3.3},
          "encoding": {
            "x": {"field": "N", "type": "quantitative", "scale": {"type": "log", "domain": [472500, 4654000], "nice": false},
              "axis": {"orient": "bottom", "values": [500000, 600000, 700000, 800000, 900000, 1000000, 2000000, 3000000, 4000000], "tickSize": {"condition": {"test": "datum.value === 1000000", "value": -19}, "value": -9}, "tickWidth": {"condition": {"test": "datum.value === 1000000", "value": 2.5}, "value": 1.5}, "grid": true, "gridOpacity": {"condition": {"test": "datum.value === 1000000", "value": 1}, "value": 0},
                "labelExpr": "datum.value === 1000000 ? '10⁶' : datum.value === 600000 ? '6 × 10⁵' : datum.value === 2000000 ? '2 × 10⁶' : datum.value === 3000000 ? '3 × 10⁶' : datum.value === 4000000 ? '4 × 10⁶' : ''",
                "labelFontSize": {"condition": {"test": "datum.value === 1000000", "value": 37}, "value": 24}, "labelPadding": {"condition": {"test": "datum.value === 1000000", "value": 27}, "value": 21}, "labelOverlap": false, "labelFlush": false, "labelBaseline": "top", "labelAlign": "center",
                "title": "N", "titleFont": "Liberation Serif", "titleFontStyle": "italic", "titleFontSize": 36, "titlePadding": 6}},
            "y": {"field": "ratio", "type": "quantitative", "scale": {"domain": [0.6, 0.8564], "nice": false, "zero": false},
              "axis": {"orient": "left", "values": [0.6, 0.65, 0.7, 0.75, 0.8, 0.85], "labels": false, "tickSize": -19, "tickWidth": 2.5, "grid": true, "title": null}},
            "color": {"field": "series", "type": "nominal", "legend": null,
              "scale": {"domain": ["omp (loop)", "omp (distribute)"], "range": ["#ff5000", "#ff5000"]}},
            "strokeDash": {"field": "series", "type": "nominal", "legend": null,
              "scale": {"domain": ["omp (loop)", "omp (distribute)"], "range": [[21, 5.3, 3.3, 5.3], [12.2, 5.3]]}}
          }
        },
        {
          "mark": {"type": "point", "filled": true, "opacity": 1, "strokeWidth": 1.3, "size": 250},
          "encoding": {
            "x": {"field": "N", "type": "quantitative",
              "axis": {"orient": "top", "values": [500000, 600000, 700000, 800000, 900000, 1000000, 2000000, 3000000, 4000000], "labels": false, "title": null, "grid": false, "tickSize": {"condition": {"test": "datum.value === 1000000", "value": -19}, "value": -9}, "tickWidth": {"condition": {"test": "datum.value === 1000000", "value": 2.5}, "value": 1.5}}},
            "y": {"field": "ratio", "type": "quantitative",
              "axis": {"orient": "right", "values": [0.6, 0.65, 0.7, 0.75, 0.8, 0.85], "labels": false, "title": null, "grid": false, "tickSize": -19, "tickWidth": 2.5}},
            "shape": {"field": "series", "type": "nominal", "legend": null,
              "scale": {"domain": ["omp (loop)", "omp (distribute)"], "range": ["M-1,-1L1,-1L1,1L-1,1Z", "M-1,0A1,1,0,1,1,1,0A1,1,0,1,1,-1,0Z"]}},
            "fill": {"field": "series", "type": "nominal", "legend": null,
              "scale": {"domain": ["omp (loop)", "omp (distribute)"], "range": ["#ff5000", "#ff5000"]}},
            "stroke": {"field": "series", "type": "nominal", "legend": null,
              "scale": {"domain": ["omp (loop)", "omp (distribute)"], "range": ["#ff5000", "#ff5000"]}}
          }
        }
      ],
      "resolve": {"axis": {"x": "independent", "y": "independent"}}
    },
    {
      "width": 590.5, "height": 589,
      "title": {"text": "(h)", "anchor": "start", "frame": "group", "offset": -41, "dx": 12, "baseline": "top", "font": "Liberation Sans", "fontSize": 27, "fontWeight": "normal", "color": "black"},
      "data": {"name": "ratio"},
      "transform": [{"filter": "datum.gpu === 'Max1100'"}],
      "layer": [
        {
          "mark": {"type": "line", "strokeWidth": 3.3},
          "encoding": {
            "x": {"field": "N", "type": "quantitative", "scale": {"type": "log", "domain": [472500, 4654000], "nice": false},
              "axis": {"orient": "bottom", "values": [500000, 600000, 700000, 800000, 900000, 1000000, 2000000, 3000000, 4000000], "tickSize": {"condition": {"test": "datum.value === 1000000", "value": -19}, "value": -9}, "tickWidth": {"condition": {"test": "datum.value === 1000000", "value": 2.5}, "value": 1.5}, "grid": true, "gridOpacity": {"condition": {"test": "datum.value === 1000000", "value": 1}, "value": 0},
                "labelExpr": "datum.value === 1000000 ? '10⁶' : datum.value === 600000 ? '6 × 10⁵' : datum.value === 2000000 ? '2 × 10⁶' : datum.value === 3000000 ? '3 × 10⁶' : datum.value === 4000000 ? '4 × 10⁶' : ''",
                "labelFontSize": {"condition": {"test": "datum.value === 1000000", "value": 37}, "value": 24}, "labelPadding": {"condition": {"test": "datum.value === 1000000", "value": 27}, "value": 21}, "labelOverlap": false, "labelFlush": false, "labelBaseline": "top", "labelAlign": "center",
                "title": "N", "titleFont": "Liberation Serif", "titleFontStyle": "italic", "titleFontSize": 36, "titlePadding": 6}},
            "y": {"field": "ratio", "type": "quantitative", "scale": {"domain": [0.6, 0.8564], "nice": false, "zero": false},
              "axis": {"orient": "left", "values": [0.6, 0.65, 0.7, 0.75, 0.8, 0.85], "labels": false, "tickSize": -19, "tickWidth": 2.5, "grid": true, "title": null}},
            "color": {"field": "series", "type": "nominal", "legend": null,
              "scale": {"domain": ["omp (loop)", "omp (distribute)"], "range": ["#ff5000", "#ff5000"]}},
            "strokeDash": {"field": "series", "type": "nominal", "legend": null,
              "scale": {"domain": ["omp (loop)", "omp (distribute)"], "range": [[21, 5.3, 3.3, 5.3], [12.2, 5.3]]}}
          }
        },
        {
          "mark": {"type": "point", "filled": true, "opacity": 1, "strokeWidth": 1.3, "size": 250},
          "encoding": {
            "x": {"field": "N", "type": "quantitative",
              "axis": {"orient": "top", "values": [500000, 600000, 700000, 800000, 900000, 1000000, 2000000, 3000000, 4000000], "labels": false, "title": null, "grid": false, "tickSize": {"condition": {"test": "datum.value === 1000000", "value": -19}, "value": -9}, "tickWidth": {"condition": {"test": "datum.value === 1000000", "value": 2.5}, "value": 1.5}}},
            "y": {"field": "ratio", "type": "quantitative",
              "axis": {"orient": "right", "values": [0.6, 0.65, 0.7, 0.75, 0.8, 0.85], "labels": false, "title": null, "grid": false, "tickSize": -19, "tickWidth": 2.5}},
            "shape": {"field": "series", "type": "nominal", "legend": null,
              "scale": {"domain": ["omp (loop)", "omp (distribute)"], "range": ["M-1,-1L1,-1L1,1L-1,1Z", "M-1,0A1,1,0,1,1,1,0A1,1,0,1,1,-1,0Z"]}},
            "fill": {"field": "series", "type": "nominal", "legend": null,
              "scale": {"domain": ["omp (loop)", "omp (distribute)"], "range": ["#ff5000", "#ff5000"]}},
            "stroke": {"field": "series", "type": "nominal", "legend": null,
              "scale": {"domain": ["omp (loop)", "omp (distribute)"], "range": ["#ff5000", "#ff5000"]}}
          }
        }
      ],
      "resolve": {"axis": {"x": "independent", "y": "independent"}}
    }
  ],
  "resolve": {"scale": {"color": "independent", "strokeDash": "independent", "shape": "independent", "fill": "independent", "stroke": "independent"}},
  "config": {
    "view": {"stroke": null},
    "font": "Liberation Sans",
    "axis": {"domain": true, "domainColor": "black", "domainWidth": 3, "ticks": true, "tickColor": "black", "gridColor": "#e4e4e4", "gridWidth": 1.5, "labelColor": "black", "labelFont": "Liberation Serif", "titleColor": "black", "titleFontWeight": "normal"},
    "legend": {"fillColor": "rgba(255,255,255,0.85)", "strokeColor": "#d9d9d9", "cornerRadius": 5, "padding": 10, "labelFont": "Liberation Sans", "labelFontSize": 25, "labelColor": "black", "labelLimit": 600, "labelOffset": 64, "rowPadding": 13.8, "symbolSize": 900, "symbolStrokeWidth": 3.3, "symbolType": "M-1.133,0L2.6,0"}
  }
}
